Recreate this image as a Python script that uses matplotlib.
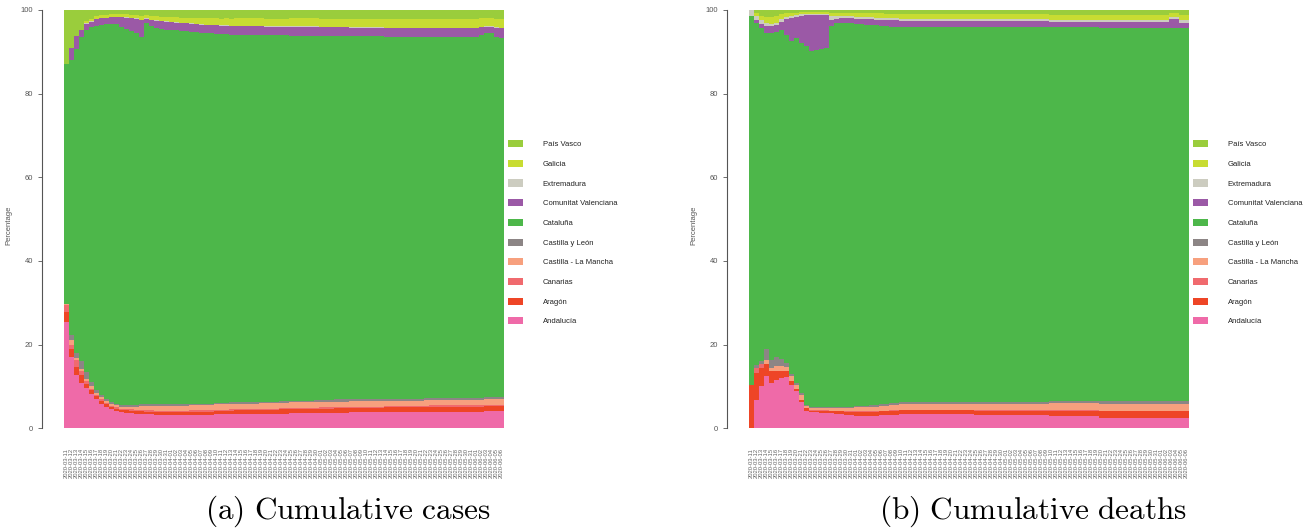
import matplotlib
matplotlib.use('Agg')
import matplotlib.pyplot as plt
import matplotlib.font_manager as fm
from matplotlib.patches import Patch
import numpy as np
import pandas as pd

# ---- data: share (%) of each region, one value per day ----
dates = pd.date_range('2020-03-11', '2020-06-06', freq='D').strftime('%Y-%m-%d').tolist()

regions = ['Andalucía', 'Aragón', 'Canarias', 'Castilla - La Mancha', 'Castilla y León',
           'Cataluña', 'Comunitat Valenciana', 'Extremadura', 'Galicia', 'País Vasco']
colors = ['#EF6AA8', '#EE4526', '#F06A6E', '#F7A07E', '#8C8585',
          '#4DB74A', '#9B59A6', '#CCCCC0', '#C8DC32', '#9ACD3C']

cases_andalucia = [
    25.4, 17.0, 12.7, 10.8, 9.6, 8.3, 6.9, 5.9, 5.1, 4.5,
    4.1, 3.8, 3.7, 3.6, 3.5, 3.4, 3.3, 3.3, 3.2, 3.2,
    3.1, 3.1, 3.1, 3.1, 3.1, 3.2, 3.2, 3.2, 3.2, 3.2,
    3.3, 3.3, 3.3, 3.3, 3.4, 3.4, 3.4, 3.4, 3.4, 3.5,
    3.5, 3.5, 3.5, 3.5, 3.5, 3.6, 3.6, 3.6, 3.6, 3.6,
    3.6, 3.7, 3.7, 3.7, 3.7, 3.7, 3.7, 3.8, 3.8, 3.8,
    3.8, 3.8, 3.8, 3.8, 3.9, 3.9, 3.9, 3.9, 3.9, 3.9,
    3.9, 3.9, 4.0, 4.0, 4.0, 4.0, 4.0, 4.0, 4.0, 4.0,
    4.0, 4.0, 4.0, 4.0, 4.1, 4.1, 4.1, 4.1]
cases_aragon = [
    2.4, 2.0, 2.0, 1.9, 1.1, 0.8, 0.8, 0.7, 0.6, 0.6,
    0.6, 0.6, 0.6, 0.6, 0.6, 0.7, 0.7, 0.7, 0.7, 0.7,
    0.8, 0.8, 0.8, 0.8, 0.8, 0.8, 0.8, 0.8, 0.8, 0.8,
    0.8, 0.8, 0.8, 0.9, 0.9, 0.9, 0.9, 0.9, 0.9, 0.9,
    0.9, 0.9, 0.9, 1.0, 1.0, 1.0, 1.0, 1.0, 1.0, 1.0,
    1.0, 1.0, 1.0, 1.0, 1.1, 1.1, 1.1, 1.1, 1.1, 1.1,
    1.1, 1.1, 1.1, 1.1, 1.1, 1.1, 1.1, 1.1, 1.1, 1.1,
    1.1, 1.1, 1.1, 1.2, 1.2, 1.2, 1.2, 1.2, 1.2, 1.2,
    1.2, 1.2, 1.2, 1.2, 1.2, 1.2, 1.2, 1.2]
cases_canarias = [
    1.6, 1.0, 1.6, 0.9, 0.5, 0.4, 0.3, 0.3, 0.3, 0.3,
    0.3, 0.3, 0.3, 0.3, 0.3, 0.3, 0.3, 0.3, 0.3, 0.3,
    0.3, 0.3, 0.3, 0.3, 0.3, 0.3, 0.3, 0.3, 0.3, 0.3,
    0.3, 0.3, 0.3, 0.3, 0.3, 0.3, 0.3, 0.3, 0.3, 0.3,
    0.3, 0.3, 0.3, 0.3, 0.3, 0.3, 0.3, 0.3, 0.3, 0.3,
    0.3, 0.3, 0.3, 0.3, 0.3, 0.3, 0.3, 0.3, 0.3, 0.3,
    0.3, 0.3, 0.3, 0.3, 0.3, 0.3, 0.3, 0.3, 0.3, 0.3,
    0.3, 0.3, 0.3, 0.3, 0.3, 0.3, 0.3, 0.3, 0.3, 0.3,
    0.3, 0.3, 0.3, 0.3, 0.3, 0.3, 0.3, 0.3]
cases_clm = [
    0.2, 1.0, 0.5, 0.6, 0.6, 0.5, 0.5, 0.5, 0.5, 0.5,
    0.5, 0.5, 0.6, 0.7, 0.8, 0.9, 1.0, 1.0, 1.1, 1.1,
    1.2, 1.2, 1.2, 1.2, 1.2, 1.2, 1.2, 1.2, 1.2, 1.2,
    1.3, 1.3, 1.3, 1.3, 1.3, 1.3, 1.3, 1.3, 1.3, 1.3,
    1.3, 1.3, 1.3, 1.3, 1.3, 1.3, 1.3, 1.3, 1.3, 1.3,
    1.3, 1.3, 1.3, 1.3, 1.3, 1.3, 1.3, 1.3, 1.3, 1.3,
    1.3, 1.3, 1.3, 1.3, 1.3, 1.3, 1.3, 1.3, 1.3, 1.3,
    1.3, 1.3, 1.3, 1.3, 1.3, 1.3, 1.3, 1.3, 1.3, 1.3,
    1.3, 1.3, 1.3, 1.3, 1.3, 1.3, 1.3, 1.3]
cases_cyl = [
    0.2, 1.2, 1.2, 1.9, 1.6, 1.0, 0.6, 0.5, 0.4, 0.4,
    0.4, 0.4, 0.4, 0.4, 0.4, 0.4, 0.4, 0.4, 0.4, 0.4,
    0.4, 0.4, 0.4, 0.4, 0.4, 0.4, 0.4, 0.4, 0.4, 0.4,
    0.4, 0.4, 0.4, 0.4, 0.4, 0.4, 0.4, 0.4, 0.4, 0.4,
    0.4, 0.4, 0.4, 0.4, 0.4, 0.4, 0.4, 0.4, 0.4, 0.4,
    0.5, 0.5, 0.5, 0.5, 0.5, 0.5, 0.5, 0.5, 0.5, 0.5,
    0.5, 0.5, 0.5, 0.5, 0.5, 0.5, 0.5, 0.5, 0.5, 0.5,
    0.5, 0.5, 0.5, 0.5, 0.5, 0.5, 0.5, 0.5, 0.5, 0.5,
    0.5, 0.5, 0.5, 0.5, 0.5, 0.5, 0.5, 0.5]
cases_cataluna = [
    57.4, 65.8, 72.7, 77.4, 81.7, 84.9, 87.1, 88.6, 89.7, 90.4,
    90.7, 90.3, 89.8, 89.3, 88.8, 87.9, 91.3, 90.5, 89.9, 89.7,
    89.5, 89.4, 89.3, 89.2, 89.1, 88.9, 88.8, 88.7, 88.6, 88.5,
    88.2, 88.1, 88.1, 87.9, 87.8, 87.8, 87.8, 87.8, 87.8, 87.7,
    87.6, 87.6, 87.6, 87.5, 87.5, 87.3, 87.3, 87.3, 87.3, 87.3,
    87.2, 87.0, 87.0, 87.0, 86.9, 86.9, 86.9, 86.7, 86.7, 86.7,
    86.7, 86.7, 86.7, 86.7, 86.5, 86.5, 86.5, 86.5, 86.5, 86.5,
    86.5, 86.5, 86.4, 86.2, 86.2, 86.2, 86.2, 86.2, 86.2, 86.2,
    86.2, 86.2, 86.2, 86.7, 87.2, 87.0, 86.1, 86.0]
cases_valenciana = [
    0.0, 2.8, 3.2, 1.6, 1.6, 1.3, 1.6, 1.6, 1.5, 1.6,
    1.7, 2.4, 2.8, 3.1, 3.5, 4.0, 0.9, 1.4, 1.8, 1.9,
    1.9, 1.9, 1.9, 1.9, 1.9, 1.9, 1.9, 1.9, 1.9, 2.0,
    2.0, 2.0, 2.0, 2.0, 2.0, 2.0, 2.0, 2.0, 2.0, 2.0,
    2.0, 2.0, 2.0, 2.0, 2.0, 2.1, 2.1, 2.1, 2.1, 2.1,
    2.1, 2.1, 2.1, 2.1, 2.1, 2.1, 2.1, 2.1, 2.1, 2.1,
    2.1, 2.1, 2.1, 2.1, 2.1, 2.1, 2.1, 2.1, 2.1, 2.1,
    2.1, 2.1, 2.1, 2.2, 2.2, 2.2, 2.2, 2.2, 2.2, 2.2,
    2.2, 2.2, 2.2, 1.9, 1.4, 1.6, 2.3, 2.3]
cases_extremadura = [
    0.0, 0.0, 0.0, 0.0, 0.1, 0.1, 0.1, 0.1, 0.1, 0.1,
    0.1, 0.1, 0.1, 0.1, 0.1, 0.1, 0.1, 0.1, 0.1, 0.1,
    0.1, 0.1, 0.1, 0.1, 0.1, 0.1, 0.1, 0.1, 0.1, 0.1,
    0.1, 0.1, 0.1, 0.1, 0.1, 0.1, 0.1, 0.1, 0.1, 0.1,
    0.1, 0.1, 0.1, 0.1, 0.1, 0.1, 0.1, 0.1, 0.1, 0.1,
    0.1, 0.1, 0.1, 0.1, 0.1, 0.1, 0.1, 0.1, 0.1, 0.1,
    0.1, 0.1, 0.1, 0.1, 0.1, 0.1, 0.1, 0.1, 0.1, 0.1,
    0.1, 0.1, 0.1, 0.1, 0.1, 0.1, 0.1, 0.1, 0.1, 0.1,
    0.1, 0.1, 0.1, 0.1, 0.1, 0.1, 0.1, 0.1]
cases_galicia = [
    0.0, 0.0, 0.0, 0.0, 0.5, 0.6, 0.7, 0.7, 0.7, 0.7,
    0.7, 0.7, 0.8, 0.8, 0.8, 0.8, 0.9, 0.9, 1.0, 1.0,
    1.1, 1.1, 1.2, 1.2, 1.3, 1.3, 1.4, 1.4, 1.5, 1.5,
    1.6, 1.6, 1.7, 1.7, 1.8, 1.8, 1.8, 1.8, 1.8, 1.8,
    1.8, 1.8, 1.8, 1.8, 1.8, 1.9, 1.9, 1.9, 1.9, 1.9,
    1.9, 1.9, 1.9, 1.9, 1.9, 1.9, 1.9, 2.0, 2.0, 2.0,
    2.0, 2.0, 2.0, 2.0, 2.0, 2.0, 2.0, 2.0, 2.0, 2.0,
    2.0, 2.0, 2.0, 2.0, 2.0, 2.0, 2.0, 2.0, 2.0, 2.0,
    2.0, 2.0, 2.0, 2.0, 2.0, 2.0, 2.0, 2.0]
cases_pais_vasco = [
    12.8, 9.2, 6.1, 4.9, 2.7, 2.1, 1.4, 1.1, 1.1, 0.9,
    0.9, 0.9, 0.9, 1.1, 1.2, 1.5, 1.1, 1.4, 1.5, 1.6,
    1.6, 1.7, 1.7, 1.8, 1.8, 1.9, 1.9, 2.0, 2.0, 2.0,
    2.0, 2.1, 2.0, 2.1, 2.0, 2.0, 2.0, 2.0, 2.0, 2.0,
    2.1, 2.1, 2.1, 2.1, 2.1, 2.0, 2.0, 2.0, 2.0, 2.0,
    2.0, 2.1, 2.1, 2.1, 2.1, 2.1, 2.1, 2.1, 2.1, 2.1,
    2.1, 2.1, 2.1, 2.1, 2.2, 2.2, 2.2, 2.2, 2.2, 2.2,
    2.2, 2.2, 2.2, 2.2, 2.2, 2.2, 2.2, 2.2, 2.2, 2.2,
    2.2, 2.2, 2.2, 2.0, 1.9, 1.9, 2.1, 2.2]

deaths_andalucia = [
    0.0, 6.8, 10.1, 12.4, 10.8, 11.6, 12.0, 12.2, 10.4, 8.8,
    6.4, 4.2, 3.8, 3.8, 3.7, 3.7, 3.6, 3.5, 3.4, 3.2,
    3.1, 3.0, 3.0, 3.0, 3.0, 3.0, 3.1, 3.1, 3.2, 3.2,
    3.3, 3.3, 3.3, 3.3, 3.3, 3.3, 3.3, 3.3, 3.3, 3.3,
    3.3, 3.3, 3.3, 3.3, 3.3, 3.1, 3.1, 3.1, 3.1, 3.1,
    3.1, 3.1, 3.1, 3.1, 3.1, 3.1, 3.1, 3.1, 3.1, 3.1,
    3.0, 3.0, 3.0, 3.0, 3.0, 3.0, 3.0, 3.0, 3.0, 3.0,
    2.5, 2.5, 2.5, 2.5, 2.5, 2.5, 2.5, 2.5, 2.5, 2.5,
    2.5, 2.5, 2.5, 2.5, 2.5, 2.5, 2.5, 2.5]
deaths_aragon = [
    10.4, 6.5, 4.3, 3.0, 2.8, 2.2, 1.8, 1.4, 1.0, 0.5,
    0.3, 0.6, 0.4, 0.4, 0.5, 0.5, 0.5, 0.6, 0.7, 0.8,
    0.9, 1.0, 1.0, 1.0, 1.0, 1.0, 1.0, 1.0, 1.0, 1.0,
    1.0, 1.0, 1.0, 1.0, 1.0, 1.0, 1.0, 1.0, 1.0, 1.0,
    1.0, 1.0, 1.0, 1.0, 1.0, 1.1, 1.1, 1.1, 1.1, 1.1,
    1.1, 1.1, 1.1, 1.1, 1.1, 1.1, 1.1, 1.1, 1.1, 1.1,
    1.2, 1.2, 1.2, 1.2, 1.2, 1.2, 1.2, 1.2, 1.2, 1.2,
    1.6, 1.6, 1.6, 1.6, 1.6, 1.6, 1.6, 1.6, 1.6, 1.6,
    1.6, 1.6, 1.6, 1.6, 1.6, 1.6, 1.6, 1.6]
deaths_canarias = [
    0.0, 1.1, 0.9, 0.0, 0.0, 0.0, 0.0, 0.0, 0.0, 0.0,
    0.0, 0.0, 0.1, 0.1, 0.1, 0.1, 0.1, 0.1, 0.1, 0.1,
    0.1, 0.1, 0.1, 0.1, 0.1, 0.1, 0.1, 0.1, 0.1, 0.1,
    0.1, 0.1, 0.1, 0.1, 0.1, 0.1, 0.1, 0.1, 0.1, 0.1,
    0.1, 0.1, 0.1, 0.1, 0.1, 0.1, 0.1, 0.1, 0.1, 0.1,
    0.1, 0.1, 0.1, 0.1, 0.1, 0.1, 0.1, 0.1, 0.1, 0.1,
    0.1, 0.1, 0.1, 0.1, 0.1, 0.1, 0.1, 0.1, 0.1, 0.1,
    0.1, 0.1, 0.1, 0.1, 0.1, 0.1, 0.1, 0.1, 0.1, 0.1,
    0.1, 0.1, 0.1, 0.1, 0.1, 0.1, 0.1, 0.1]
deaths_clm = [
    0.0, 0.0, 0.0, 0.9, 0.8, 1.0, 1.0, 1.0, 1.0, 1.0,
    1.3, 0.5, 0.6, 0.6, 0.6, 0.6, 0.7, 0.7, 0.7, 0.7,
    0.7, 0.9, 1.0, 1.0, 1.1, 1.1, 1.2, 1.2, 1.3, 1.3,
    1.5, 1.5, 1.5, 1.5, 1.5, 1.5, 1.5, 1.5, 1.5, 1.5,
    1.5, 1.5, 1.5, 1.5, 1.5, 1.6, 1.6, 1.6, 1.6, 1.6,
    1.6, 1.6, 1.6, 1.6, 1.6, 1.6, 1.6, 1.6, 1.6, 1.6,
    1.7, 1.7, 1.7, 1.7, 1.7, 1.7, 1.7, 1.7, 1.7, 1.7,
    1.6, 1.6, 1.6, 1.6, 1.6, 1.6, 1.6, 1.6, 1.6, 1.6,
    1.6, 1.6, 1.6, 1.6, 1.6, 1.6, 1.6, 1.6]
deaths_cyl = [
    0.0, 0.8, 0.7, 2.6, 1.9, 2.3, 1.7, 1.1, 0.6, 0.5,
    0.4, 0.3, 0.3, 0.3, 0.3, 0.3, 0.3, 0.3, 0.3, 0.3,
    0.3, 0.3, 0.3, 0.3, 0.4, 0.4, 0.4, 0.4, 0.4, 0.4,
    0.5, 0.5, 0.5, 0.5, 0.5, 0.5, 0.5, 0.5, 0.5, 0.5,
    0.5, 0.5, 0.5, 0.5, 0.5, 0.5, 0.5, 0.5, 0.5, 0.5,
    0.5, 0.5, 0.5, 0.5, 0.5, 0.5, 0.5, 0.5, 0.5, 0.5,
    0.5, 0.5, 0.5, 0.5, 0.5, 0.5, 0.5, 0.5, 0.5, 0.5,
    0.7, 0.7, 0.7, 0.7, 0.7, 0.7, 0.7, 0.7, 0.7, 0.7,
    0.7, 0.7, 0.7, 0.7, 0.7, 0.7, 0.7, 0.7]
deaths_cataluna = [
    88.2, 81.6, 79.7, 75.6, 78.2, 77.6, 78.6, 78.4, 79.7, 82.5,
    83.7, 85.9, 85.1, 85.3, 85.5, 85.7, 90.9, 91.8, 91.8, 91.8,
    91.7, 91.4, 91.2, 91.1, 90.8, 90.7, 90.4, 90.3, 90.0, 90.0,
    89.5, 89.5, 89.5, 89.5, 89.5, 89.5, 89.5, 89.5, 89.5, 89.5,
    89.5, 89.5, 89.5, 89.5, 89.5, 89.5, 89.5, 89.5, 89.5, 89.5,
    89.5, 89.5, 89.5, 89.5, 89.5, 89.5, 89.5, 89.5, 89.5, 89.5,
    89.4, 89.4, 89.4, 89.4, 89.4, 89.4, 89.4, 89.4, 89.4, 89.4,
    89.3, 89.3, 89.3, 89.3, 89.3, 89.3, 89.3, 89.3, 89.3, 89.3,
    89.3, 89.3, 89.3, 89.3, 89.3, 89.3, 89.2, 89.2]
deaths_valenciana = [
    0.0, 0.8, 1.0, 1.6, 1.6, 1.6, 2.1, 3.7, 5.4, 5.1,
    6.5, 7.2, 8.4, 8.2, 8.0, 7.8, 1.6, 0.9, 1.0, 1.1,
    1.2, 1.2, 1.3, 1.3, 1.4, 1.4, 1.5, 1.5, 1.6, 1.5,
    1.5, 1.5, 1.5, 1.5, 1.5, 1.5, 1.5, 1.5, 1.5, 1.5,
    1.5, 1.5, 1.5, 1.5, 1.5, 1.4, 1.4, 1.4, 1.4, 1.4,
    1.4, 1.4, 1.4, 1.4, 1.4, 1.4, 1.4, 1.4, 1.4, 1.4,
    1.3, 1.3, 1.3, 1.3, 1.3, 1.3, 1.3, 1.3, 1.3, 1.3,
    1.3, 1.3, 1.3, 1.3, 1.3, 1.3, 1.3, 1.3, 1.3, 1.3,
    1.3, 1.3, 1.3, 1.3, 2.0, 2.0, 1.3, 1.3]
deaths_extremadura = [
    1.4, 1.0, 0.8, 0.8, 0.6, 0.7, 0.6, 0.6, 0.5, 0.5,
    0.4, 0.4, 0.4, 0.4, 0.4, 0.4, 0.8, 0.6, 0.5, 0.5,
    0.5, 0.5, 0.5, 0.5, 0.5, 0.5, 0.5, 0.5, 0.5, 0.5,
    0.5, 0.5, 0.5, 0.5, 0.5, 0.5, 0.5, 0.5, 0.5, 0.5,
    0.5, 0.5, 0.5, 0.5, 0.5, 0.5, 0.5, 0.5, 0.5, 0.5,
    0.5, 0.5, 0.5, 0.5, 0.5, 0.5, 0.5, 0.5, 0.5, 0.5,
    0.5, 0.5, 0.5, 0.5, 0.5, 0.5, 0.5, 0.5, 0.5, 0.5,
    0.6, 0.6, 0.6, 0.6, 0.6, 0.6, 0.6, 0.6, 0.6, 0.6,
    0.6, 0.6, 0.6, 0.6, 0.5, 0.5, 0.6, 0.6]
deaths_galicia = [
    0.0, 0.7, 1.1, 1.5, 1.7, 1.6, 1.2, 0.8, 0.7, 0.5,
    0.5, 0.4, 0.4, 0.4, 0.4, 0.4, 0.8, 0.8, 0.8, 0.8,
    0.8, 0.8, 0.8, 0.9, 0.9, 1.0, 1.0, 1.0, 1.0, 1.1,
    1.1, 1.1, 1.1, 1.1, 1.1, 1.1, 1.1, 1.1, 1.1, 1.1,
    1.1, 1.1, 1.1, 1.1, 1.1, 1.2, 1.2, 1.2, 1.2, 1.2,
    1.2, 1.2, 1.2, 1.2, 1.2, 1.2, 1.2, 1.2, 1.2, 1.2,
    1.2, 1.2, 1.2, 1.2, 1.2, 1.2, 1.2, 1.2, 1.2, 1.2,
    1.2, 1.2, 1.2, 1.2, 1.2, 1.2, 1.2, 1.2, 1.2, 1.2,
    1.2, 1.2, 1.2, 1.2, 0.9, 0.9, 1.3, 1.3]
deaths_pais_vasco = [
    0.0, 0.7, 1.4, 1.6, 1.6, 1.4, 1.0, 0.8, 0.7, 0.6,
    0.5, 0.5, 0.5, 0.5, 0.5, 0.5, 0.7, 0.7, 0.7, 0.7,
    0.7, 0.8, 0.8, 0.8, 0.8, 0.8, 0.8, 0.9, 0.9, 0.9,
    1.0, 1.0, 1.0, 1.0, 1.0, 1.0, 1.0, 1.0, 1.0, 1.0,
    1.0, 1.0, 1.0, 1.0, 1.0, 1.0, 1.0, 1.0, 1.0, 1.0,
    1.0, 1.0, 1.0, 1.0, 1.0, 1.0, 1.0, 1.0, 1.0, 1.0,
    1.1, 1.1, 1.1, 1.1, 1.1, 1.1, 1.1, 1.1, 1.1, 1.1,
    1.1, 1.1, 1.1, 1.1, 1.1, 1.1, 1.1, 1.1, 1.1, 1.1,
    1.1, 1.1, 1.1, 1.1, 0.8, 0.8, 1.1, 1.1]

cases = [cases_andalucia, cases_aragon, cases_canarias, cases_clm, cases_cyl,
         cases_cataluna, cases_valenciana, cases_extremadura, cases_galicia, cases_pais_vasco]
deaths = [deaths_andalucia, deaths_aragon, deaths_canarias, deaths_clm, deaths_cyl,
          deaths_cataluna, deaths_valenciana, deaths_extremadura, deaths_galicia, deaths_pais_vasco]

# ---- fonts ----
names = {f.name for f in fm.fontManager.ttflist}
narrow = 'Liberation Sans Narrow' if 'Liberation Sans Narrow' in names else 'Liberation Sans'
plt.rcParams['font.family'] = [narrow, 'DejaVu Sans']
plt.rcParams['mathtext.fontset'] = 'cm'

W, H = 1307, 530
fig = plt.figure(figsize=(W / 100, H / 100), dpi=100)


def panel(left_px, series, caption, cap_x):
    ax = fig.add_axes([left_px / W, (H - 428.3) / H, 440 / W, 418.3 / H])
    vals = np.array(series, dtype=float)
    vals = vals / vals.sum(axis=0) * 100
    x = np.arange(len(dates))
    bottom = np.zeros(len(dates))
    for k, name in enumerate(regions):
        ax.bar(x, vals[k], bottom=bottom, width=1.0, color=colors[k],
               linewidth=0, label=name)
        bottom += vals[k]

    ax.set_xlim(-0.5, len(dates) - 0.5)
    ax.set_ylim(0, 100)
    for s in ['top', 'right', 'bottom']:
        ax.spines[s].set_visible(False)
    # y axis drawn detached from the bars (22 px to the left)
    ax.spines['left'].set_position(('outward', 15.8))
    ax.spines['left'].set_bounds(0, 100)
    ax.spines['left'].set_color('#555555')
    ax.spines['left'].set_linewidth(0.8)

    ax.set_yticks([0, 20, 40, 60, 80, 100])
    ax.tick_params(axis='y', length=2.9, width=0.6, colors='#555555',
                   labelsize=5.5, pad=3.6)
    ax.set_xticks(x)
    ax.set_xticklabels(dates, rotation=90, fontsize=4.2, color='#666666')
    ax.tick_params(axis='x', length=0, pad=14)

    ax.set_ylabel('Percentage', fontsize=5.5, color='#555555')
    ax.yaxis.set_label_coords(-0.117, 0.486)

    handles = [Patch(facecolor=colors[k], edgecolor='none') for k in range(len(regions))][::-1]
    leg = ax.legend(handles, regions[::-1], loc='upper left', bbox_to_anchor=(1.009, 0.689),
                    frameon=False, fontsize=5.5, borderpad=0, borderaxespad=0,
                    handlelength=1.96, handleheight=1.05, handletextpad=2.6,
                    labelspacing=1.51)
    for t in leg.get_texts():
        t.set_color('#222222')

    fig.text(cap_x / W, (H - 511) / H, caption, fontsize=22.5,
             ha='center', va='center')
    return ax


panel(64, cases, r'$\mathrm{(a)\ Cumulative\ cases}$', 348)
panel(749, deaths, r'$\mathrm{(b)\ Cumulative\ deaths}$', 1033)

fig.savefig('out.png', dpi=100)
